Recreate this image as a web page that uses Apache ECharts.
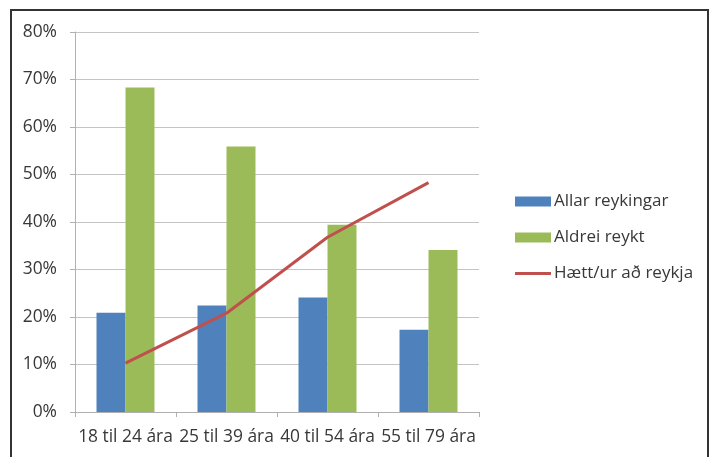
<!DOCTYPE html>
<html>
<head>
<meta charset="utf-8">
<script src="https://cdn.jsdelivr.net/npm/echarts@6/dist/echarts.min.js"></script>
<style>
html,body{margin:0;padding:0;background:#fff;}
#chart{width:716px;height:457px;}
</style>
</head>
<body>
<div id="chart"></div>
<script>
var categories = ['18 til 24 ára', '25 til 39 ára', '40 til 54 ára', '55 til 79 ára'];
var allarReykingar = [20.9, 22.4, 24.1, 17.3];
var aldreiReykt = [68.3, 55.9, 39.4, 34.1];
var haettReykja = [10.3, 20.8, 36.8, 48.3];
var yTicks = [0, 10, 20, 30, 40, 50, 60, 70, 80];

var FONT = '"Open Sans", Lato, sans-serif';
var TXT = '#383838';
var chart = echarts.init(document.getElementById('chart'), null, {renderer: 'canvas'});
chart.setOption({
  animation: false,
  backgroundColor: '#ffffff',
  graphic: [{
    type: 'rect',
    shape: {x: 11, y: 10, width: 697, height: 470},
    style: {fill: 'none', stroke: '#333333', lineWidth: 2},
    silent: true
  }],
  grid: {left: 75, right: 237, top: 32, bottom: 45, containLabel: false},
  legend: {
    orient: 'vertical',
    left: 510,
    top: 188,
    itemWidth: 36,
    itemHeight: 10,
    itemGap: 19,
    textStyle: {color: TXT, fontFamily: FONT, fontSize: 17, padding: [0, 0, 0, -2]},
    data: [
      {name: 'Allar reykingar', icon: 'rect'},
      {name: 'Aldrei reykt', icon: 'rect'},
      {name: 'Hætt/ur að reykja', icon: 'path://M0,0 L36,0 L36,3 L0,3 Z'}
    ]
  },
  xAxis: {
    type: 'category',
    data: categories,
    axisLine: {lineStyle: {color: '#b0b0b0', width: 1}},
    axisTick: {show: true, length: 5, lineStyle: {color: '#b0b0b0'}},
    axisLabel: {color: TXT, fontFamily: FONT, fontSize: 17.4, margin: 17, interval: 0}
  },
  yAxis: {
    type: 'value',
    min: yTicks[0],
    max: yTicks[yTicks.length - 1],
    interval: yTicks[1] - yTicks[0],
    axisLine: {show: true, lineStyle: {color: '#b0b0b0', width: 1}},
    axisTick: {show: true, length: 5, lineStyle: {color: '#b0b0b0'}},
    splitLine: {lineStyle: {color: '#c4c4c4', width: 1}},
    axisLabel: {color: TXT, fontFamily: FONT, fontSize: 17.4, margin: 18, formatter: '{value}%'}
  },
  series: [
    {
      name: 'Allar reykingar',
      type: 'bar',
      data: allarReykingar,
      barWidth: 29,
      barGap: '0%',
      itemStyle: {color: '#4F81BD'}
    },
    {
      name: 'Aldrei reykt',
      type: 'bar',
      data: aldreiReykt,
      barWidth: 29,
      barGap: '0%',
      itemStyle: {color: '#9BBB59'}
    },
    {
      name: 'Hætt/ur að reykja',
      type: 'line',
      data: haettReykja,
      symbol: 'none',
      itemStyle: {color: '#C0504D'},
      lineStyle: {color: '#C0504D', width: 3}
    }
  ]
});
</script>
</body>
</html>
